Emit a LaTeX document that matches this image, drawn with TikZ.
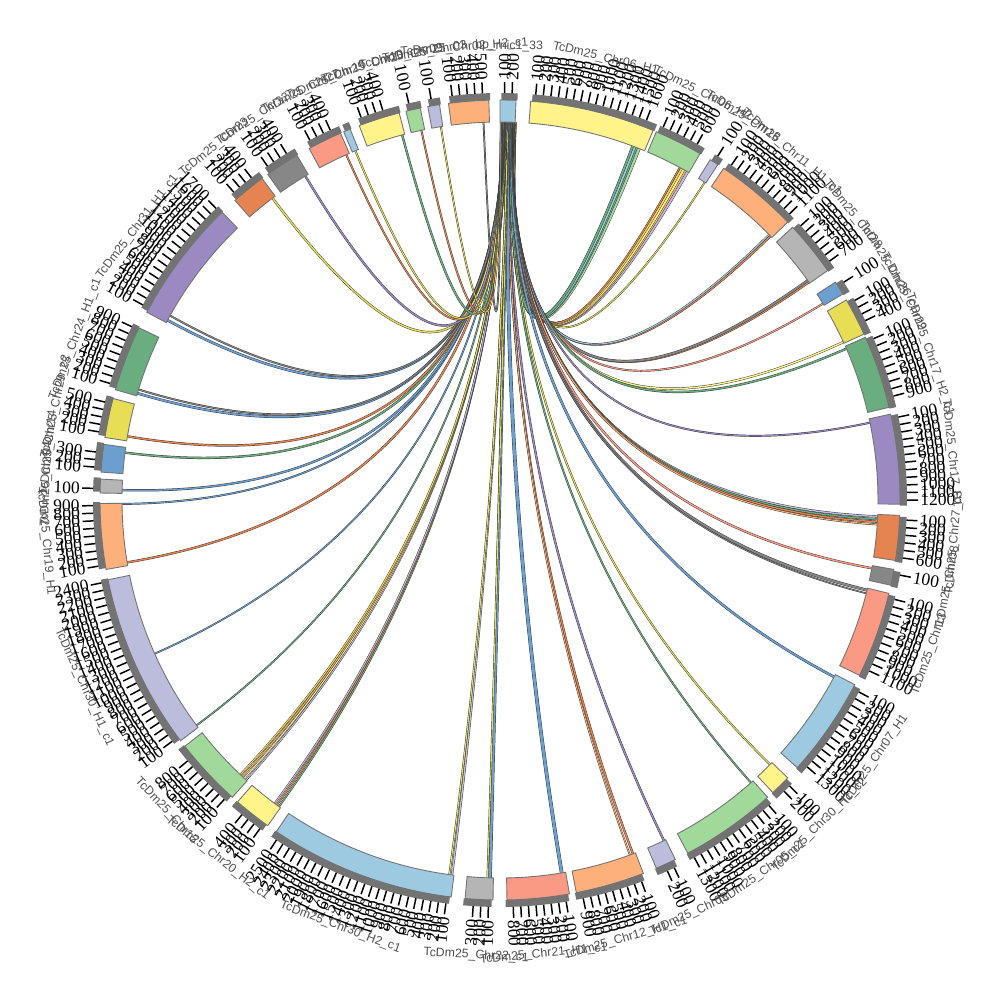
\documentclass[tikz,border=0pt]{standalone}
\usepackage{fontspec}
\setmainfont{Liberation Serif}
\newfontfamily\namefont{Liberation Sans}
\definecolor{cBlue}{HTML}{9ECAE1}
\definecolor{cYel}{HTML}{FFF38A}
\definecolor{cGrnL}{HTML}{A1D99B}
\definecolor{cLav}{HTML}{BCBDDC}
\definecolor{cOrL}{HTML}{FDB07A}
\definecolor{cGryL}{HTML}{B5B5B5}
\definecolor{cStl}{HTML}{6A9FCF}
\definecolor{cYelD}{HTML}{E8DE55}
\definecolor{cGrnD}{HTML}{6AAE80}
\definecolor{cPur}{HTML}{9B89C2}
\definecolor{cOrD}{HTML}{E58450}
\definecolor{cGryD}{HTML}{878787}
\definecolor{cSal}{HTML}{FB9A84}
\definecolor{stripgray}{HTML}{737373}
\definecolor{namegray}{HTML}{505050}

\tikzset{
  band/.style={draw=black!55, line width=0.5pt},
  tickline/.style={line width=0.85pt},
  ticklab/.style={font=\fontsize{10}{10}\selectfont, inner sep=0pt},
  chrname/.style={font=\namefont\fontsize{7}{7}\selectfont, text=namegray, inner sep=0pt},
}

% #1 id, #2 start, #3 end (clockwise), #4 colour, #5 ticks, #6 name
\newcommand{\chrom}[6]{%
  \filldraw[band, fill=#4] (#2:378) arc[start angle=#2, end angle=#3, radius=378]
    -- (#3:400) arc[start angle=#3, end angle=#2, radius=400] -- cycle;
  \fill[stripgray] (#2-0.2:400) arc[start angle=#2-0.2, end angle=#3-0.2, radius=400]
    -- (#3-0.2:407) arc[start angle=#3-0.2, end angle=#2-0.2, radius=407] -- cycle;
  \ifnum#5>0
  \foreach \k in {1,...,#5} {
    \pgfmathsetmacro\ta{#2-(\k-0.4)*1.07}
    \pgfmathtruncatemacro\lab{100*\k}
    \pgfmathtruncatemacro\flip{cos(\ta)<0}
    \draw[tickline] (\ta:407) -- (\ta:418);
    \ifnum\flip=1
      \node[ticklab, anchor=east, rotate=\ta+180] (#1-t\k) at (\ta:420) {\lab};
    \else
      \node[ticklab, anchor=west, rotate=\ta] (#1-t\k) at (\ta:420) {\lab};
    \fi
  }
  \fi
  \pgfmathsetmacro\midang{(#2+#3)/2}
  \pgfmathtruncatemacro\low{sin(\midang)<0}
  \ifnum\low=1
    \node[chrname, rotate=\midang+90] (#1) at (\midang:456) {#6};
  \else
    \node[chrname, rotate=\midang-90] (#1) at (\midang:454) {#6};
  \fi
}

% #1 source angle, #2 colour, #3 width in pt; all chords end on the top contig
\newcommand{\chord}[3]{%
  \pgfmathsetmacro\tgt{87.8+2.1*(69.5-#1)/337.5}
  \pgfmathsetmacro\wo{#3+0.5}
  \draw[line width=\wo pt, black!80] (#1:378) .. controls (#1:126) and (\tgt:126) .. (\tgt:378);
  \draw[line width=#3pt, #2] (#1:378) .. controls (#1:126) and (\tgt:126) .. (\tgt:378);
}

\begin{document}
\begin{tikzpicture}[x=0.02cm, y=0.02cm]
\useasboundingbox (-500,-500) rectangle (500,500);

% links
\foreach \s/\c/\w in {68.5/cGrnL/2.0, 68.9/cGrnD/1.6, 69.2/cBlue/1.8, 69.45/cGrnD/1.0,
  60.3/cLav/1.6, 60.7/cOrL/1.6, 61.0/cYel/1.6, 61.3/cYelD/1.0, 61.6/cOrD/0.6,
  57.2/cYelD/0.5, 44.3/cOrD/0.8, 44.6/cBlue/0.6, 35.2/cOrD/0.8, 35.5/cGryD/1.0,
  31.3/cSal/0.6, 24.7/cYel/0.8, 23.6/cGrnD/0.8, 11.8/cPur/0.6,
  -2.5/cLav/0.8, -2.9/cGrnD/0.8, -3.3/cOrD/0.8, -3.7/cOrL/0.6,
  -10.4/cSal/0.8, -13.8/cGryD/1.2, -14.3/cGryD/0.4, -27.9/cStl/1.0,
  -44.4/cYelD/0.6, -48.4/cGrnD/0.6, -64.3/cPur/0.8, -69.4/cOrD/0.8, -69.9/cOrL/0.5,
  -80.6/cStl/1.6, -91.5/cStl/1.4, -91.9/cYelD/0.6, -97.3/cLav/0.8, -97.7/cYelD/0.6,
  -125.8/cGrnD/0.6, -126.2/cOrD/0.6, -126.6/cLav/0.6,
  -132.2/cLav/0.6, -132.6/cYel/0.6, -133/cOrL/0.6, -133.4/cYelD/0.6,
  -143.4/cGrnD/0.5, -156/cStl/0.5, -170.5/cOrD/0.8, -179.4/cStl/0.6,
  -181.5/cStl/0.8, -187.2/cGrnD/0.8, -189.7/cOrD/0.8,
  -196.4/cStl/1.0, -197/cGryD/0.6, -208.4/cStl/1.0, -209.2/cGryD/0.6,
  -233/cYelD/0.8, -239/cPur/0.8, -246/cOrD/0.6, -247.5/cYelD/0.6,
  -255/cGrnD/0.8, -258/cOrD/0.6, -261/cYelD/0.5, -267.5/cGryD/0.5}
  \chord{\s}{\c}{\w};

% contigs, clockwise from the top
\chrom{c01}{90}{87.7}{cBlue}{2}{bp\_rnic1\_33}
\chrom{c02}{85.6}{67.5}{cYel}{16}{TcDm25\_Chr06\_H1}
\chrom{c03}{67}{60}{cGrnL}{6}{TcDm25\_Chr06\_H2}
\chrom{c04}{58.3}{57}{cLav}{1}{TcDm25\_Chr18}
\chrom{c05}{56}{44}{cOrL}{11}{TcDm25\_Chr11\_H1\_c1}
\chrom{c06}{43}{35}{cGryL}{7}{TcDm25\_Chr28}
\chrom{c07}{33}{31}{cStl}{1}{TcDm25\_Chr26}
\chrom{c08}{30}{24.5}{cYelD}{4}{TcDm25\_Chr29}
\chrom{c09}{24}{13.4}{cGrnD}{9}{TcDm25\_Chr17\_H2\_c1}
\chrom{c10}{12.4}{-0.6}{cPur}{12}{TcDm25\_Chr17\_H1}
\chrom{c11}{-2.2}{-8.7}{cOrD}{6}{TcDm25\_Chr27\_c3}
\chrom{c12}{-10}{-12.3}{cGryD}{1}{TcDm25\_Chr08}
\chrom{c13}{-13.5}{-26}{cSal}{11}{TcDm25\_Chr13}
\chrom{c14}{-27.5}{-42}{cBlue}{13}{TcDm25\_Chr07\_H1}
\chrom{c15}{-44}{-47}{cYel}{2}{TcDm25\_Chr30\_H1\_c2}
\chrom{c16}{-48}{-62}{cGrnL}{13}{TcDm25\_Chr05\_c1}
\chrom{c17}{-64}{-67}{cLav}{2}{TcDm25\_Chr05}
\chrom{c18}{-69}{-79}{cOrL}{9}{TcDm25\_Chr12\_H1\_c1}
\chrom{c19}{-80}{-89}{cSal}{8}{TcDm25\_Chr21\_H1\_c1}
\chrom{c20}{-91}{-95}{cGryL}{3}{TcDm25\_Chr22\_c1}
\chrom{c21}{-97}{-124}{cBlue}{25}{TcDm25\_Chr30\_H2\_c1}
\chrom{c22}{-125.5}{-131}{cYel}{4}{TcDm25\_Chr20\_H2\_c1}
\chrom{c23}{-132}{-142}{cGrnL}{8}{TcDm25\_Chr15}
\chrom{c24}{-143}{-168.5}{cLav}{24}{TcDm25\_Chr30\_H1\_c1}
\chrom{c25}{-170}{-179.5}{cOrL}{9}{TcDm25\_Chr19\_H1}
\chrom{c26}{-181}{-183}{cGryL}{1}{TcDm25\_Chr04}
\chrom{c27}{-184}{-188}{cStl}{3}{TcDm25\_Chr14}
\chrom{c28}{-189}{-194.7}{cYelD}{5}{TcDm25\_Chr29\_c2}
\chrom{c29}{-196}{-205.5}{cGrnD}{9}{TcDm25\_Chr24\_H1\_c1}
\chrom{c30}{-208}{-226}{cPur}{17}{TcDm25\_Chr31\_H1\_c1}
\chrom{c31}{-228.5}{-233.5}{cOrD}{4}{TcDm25\_Chr23}
\chrom{c32}{-234.5}{-239.5}{cGryD}{4}{TcDm25\_Chr32}
\chrom{c33}{-241.5}{-246.5}{cSal}{4}{TcDm25\_Chr27}
\chrom{c34}{-247}{-248}{cBlue}{0}{TcDm25\_Chr16}
\chrom{c35}{-249.4}{-255.4}{cYel}{4}{TcDm25\_Chr10}
\chrom{c36}{-256.4}{-258.5}{cGrnL}{1}{TcDm25\_Chr09}
\chrom{c37}{-259.6}{-261.3}{cLav}{1}{TcDm25\_Chr03}
\chrom{c38}{-262.6}{-268.4}{cOrL}{5}{TcDm25\_Chr02\_H2\_c1}
\end{tikzpicture}
\end{document}
